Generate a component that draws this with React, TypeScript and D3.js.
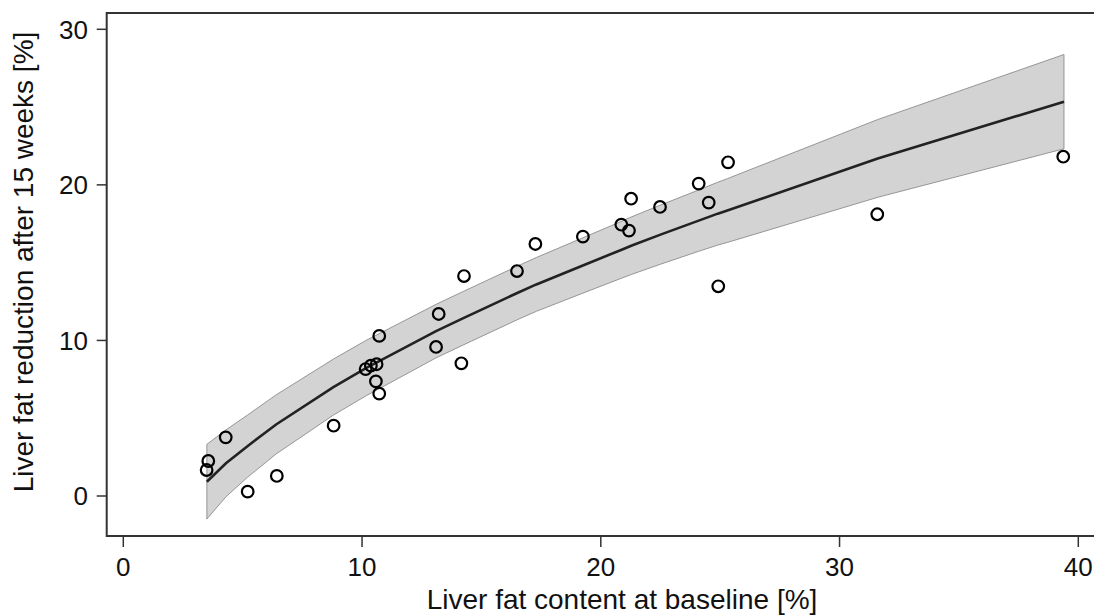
import React, { useEffect, useRef } from 'react';
import * as d3 from 'd3';

// observed points: baseline liver fat vs reduction after 15 weeks
const baselineFat = [3.49, 3.56, 4.29, 5.21, 6.43, 8.81, 10.15, 10.37, 10.61, 10.58, 10.72, 10.72, 13.10, 13.21, 14.16, 14.27, 16.49, 17.26, 19.25, 20.86, 21.18, 21.27, 22.48, 24.10, 24.52, 24.92, 25.33, 31.58, 39.37];
const fatReduction = [1.67, 2.25, 3.77, 0.28, 1.29, 4.52, 8.16, 8.38, 8.47, 7.37, 6.58, 10.29, 9.58, 11.70, 8.53, 14.14, 14.46, 16.20, 16.67, 17.44, 17.06, 19.11, 18.58, 20.08, 18.86, 13.48, 21.45, 18.11, 21.81];

// fitted curve and confidence band
const fitX = [3.5, 4.3, 5.2, 6.4, 8.8, 10.2, 10.7, 13.1, 14.2, 16.5, 17.3, 19.3, 20.9, 21.3, 22.5, 24.1, 24.9, 25.3, 31.6, 39.4];
const fitY = [0.92, 2.1, 3.2, 4.6, 7.0, 8.25, 8.65, 10.6, 11.4, 13.05, 13.6, 14.85, 15.85, 16.1, 16.8, 17.7, 18.15, 18.35, 21.7, 25.35];
const fitUpper = [3.32, 4.25, 5.2, 6.5, 8.8, 10.03, 10.42, 12.32, 13.12, 14.77, 15.33, 16.63, 17.68, 17.95, 18.7, 19.67, 20.17, 20.4, 24.2, 28.38];
const fitLower = [-1.48, -0.05, 1.2, 2.7, 5.2, 6.47, 6.88, 8.88, 9.68, 11.33, 11.87, 13.07, 14.02, 14.25, 14.9, 15.73, 16.13, 16.3, 19.2, 22.32];

const xTicks = [0, 10, 20, 30, 40];
const yTicks = [0, 10, 20, 30];

const W = 1094;
const H = 616;

const App = () => {
    const ref = useRef<SVGSVGElement>(null);

    useEffect(() => {
        if (!ref.current) return;
        const svg = d3.select(ref.current);
        svg.selectAll('*').remove();

        const font = "'Liberation Sans', Arial, Helvetica, sans-serif";
        const axisColor = '#333';
        const textColor = '#111';

        const x = d3.scaleLinear().domain([0, 40]).range([123.3, 1078.3]);
        const y = d3.scaleLinear().domain([0, 30]).range([496, 29.3]);

        const left = x(-0.695), right = x(41.2), top = y(31.05), bottom = y(-2.57);

        // confidence band
        const band = d3.area<number>()
            .x((_, i) => x(fitX[i]))
            .y0((_, i) => y(fitLower[i]))
            .y1((_, i) => y(fitUpper[i]));
        svg.append('path')
            .attr('d', band(fitX))
            .attr('fill', '#d3d3d3')
            .attr('stroke', '#8c8c8c')
            .attr('stroke-width', 0.9);

        const line = d3.line<number>()
            .x((_, i) => x(fitX[i]))
            .y((_, i) => y(fitY[i]));
        svg.append('path')
            .attr('d', line(fitX))
            .attr('fill', 'none')
            .attr('stroke', '#222')
            .attr('stroke-width', 2.6);

        // points
        svg.selectAll('.pt')
            .data(baselineFat)
            .enter().append('circle')
            .attr('class', 'pt')
            .attr('cx', d => x(d))
            .attr('cy', (_, i) => y(fatReduction[i]))
            .attr('r', 5.8)
            .attr('fill', 'none')
            .attr('stroke', '#000')
            .attr('stroke-width', 2.2);

        // frame
        svg.append('path')
            .attr('d', `M${right},${top}H${left}V${bottom}H${right}`)
            .attr('fill', 'none')
            .attr('stroke', axisColor)
            .attr('stroke-width', 2);

        // x axis
        const gx = svg.append('g');
        xTicks.forEach(t => {
            gx.append('line')
                .attr('x1', x(t)).attr('x2', x(t))
                .attr('y1', bottom).attr('y2', bottom + 11)
                .attr('stroke', axisColor).attr('stroke-width', 1.5);
            gx.append('text')
                .attr('x', x(t)).attr('y', 576)
                .attr('text-anchor', 'middle')
                .style('font-family', font)
                .style('font-size', '26px')
                .attr('fill', textColor)
                .text(t);
        });

        // y axis
        const gy = svg.append('g');
        yTicks.forEach(t => {
            gy.append('line')
                .attr('x1', left - 10).attr('x2', left)
                .attr('y1', y(t)).attr('y2', y(t))
                .attr('stroke', axisColor).attr('stroke-width', 1.5);
            gy.append('text')
                .attr('x', 88).attr('y', y(t) + 9.3)
                .attr('text-anchor', 'end')
                .style('font-family', font)
                .style('font-size', '26px')
                .attr('fill', textColor)
                .text(t);
        });

        // axis titles
        svg.append('text')
            .attr('x', 622).attr('y', 609)
            .attr('text-anchor', 'middle')
            .style('font-family', font)
            .style('font-size', '28px')
            .attr('fill', textColor)
            .text('Liver fat content at baseline [%]');

        svg.append('text')
            .attr('transform', `translate(33,262) rotate(-90)`)
            .attr('text-anchor', 'middle')
            .style('font-family', font)
            .style('font-size', '28px')
            .attr('fill', textColor)
            .text('Liver fat reduction after 15 weeks [%]');
    }, []);

    return (
        <svg ref={ref} width={W} height={H}
            style={{ position: 'absolute', left: 0, top: 0, background: '#fff' }} />
    );
};

export default App;
